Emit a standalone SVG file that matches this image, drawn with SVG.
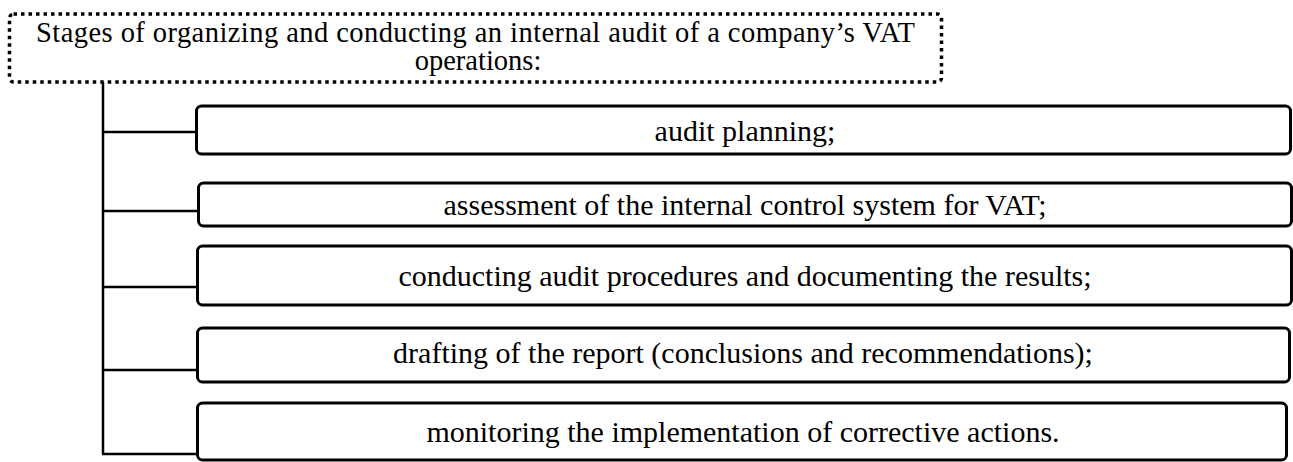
<svg xmlns="http://www.w3.org/2000/svg" width="1293" height="462" viewBox="0 0 1293 462">
<style>
text { font-family: "Liberation Serif", "Times New Roman", serif; font-size: 30px; fill: #000; }
.t { font-size: 28.5px; }
.box { fill: #fff; stroke: #000; stroke-width: 3; }
.title { fill: #fff; stroke: #000; stroke-width: 3.5; stroke-dasharray: 3.5 4; }
.conn { fill: none; stroke: #000; stroke-width: 2.5; }
</style>
<rect width="1293" height="462" fill="#fff"/>
<g id="connectors">
<path class="conn" d="M103 82 V454"/>
<path class="conn" d="M103 132 H197"/>
<path class="conn" d="M103 211 H199"/>
<path class="conn" d="M103 287 H198"/>
<path class="conn" d="M103 370 H198"/>
<path class="conn" d="M102 454 H198"/>
</g>
<g id="title">
<rect class="title" x="9.5" y="14" width="932" height="68" rx="4"/>
<text class="t" x="36" y="42" textLength="879" lengthAdjust="spacing">Stages of organizing and conducting an internal audit of a company’s VAT</text>
<text class="t" x="478" y="70" text-anchor="middle">operations:</text>
</g>
<g id="n1">
<rect class="box" x="196.5" y="106" width="1094" height="48" rx="5"/>
<text x="745" y="141" text-anchor="middle">audit planning;</text>
</g>
<g id="n2">
<rect class="box" x="198.5" y="183" width="1093" height="43" rx="5"/>
<text x="745" y="215" text-anchor="middle">assessment of the internal control system for VAT;</text>
</g>
<g id="n3">
<rect class="box" x="197.5" y="246" width="1094" height="59" rx="5"/>
<text x="745" y="286" text-anchor="middle">conducting audit procedures and documenting the results;</text>
</g>
<g id="n4">
<rect class="box" x="197.5" y="328" width="1092" height="54" rx="5"/>
<text x="743" y="363" text-anchor="middle">drafting of the report (conclusions and recommendations);</text>
</g>
<g id="n5">
<rect class="box" x="197.5" y="403" width="1089" height="57" rx="5"/>
<text x="743" y="442" text-anchor="middle">monitoring the implementation of corrective actions.</text>
</g>
</svg>
